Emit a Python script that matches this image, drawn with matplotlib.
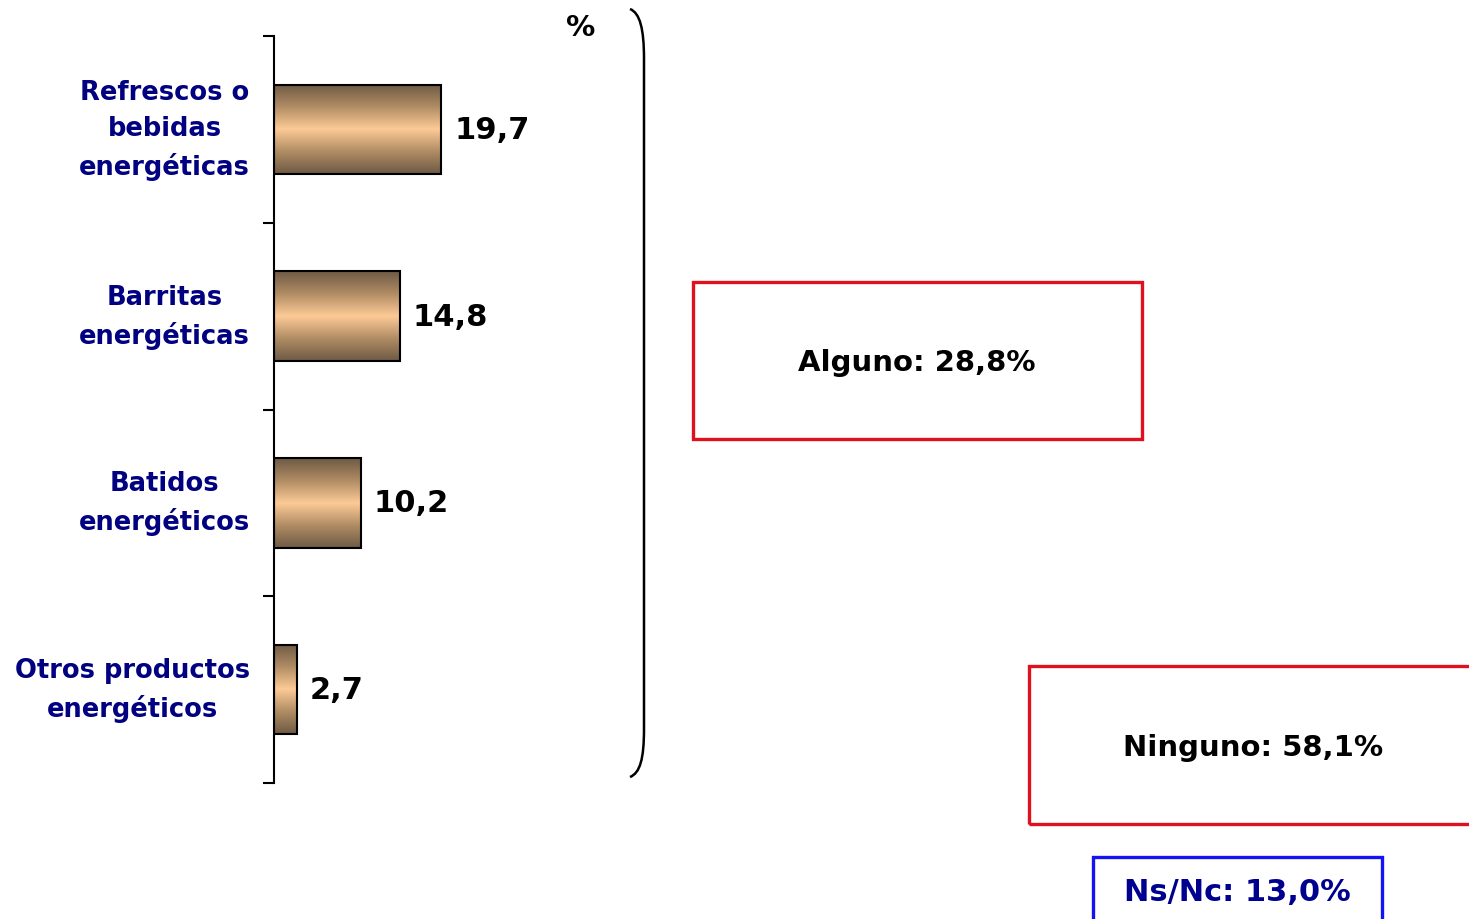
import numpy as np
import matplotlib
matplotlib.use("Agg")
import matplotlib.pyplot as plt
from matplotlib.patches import Rectangle, PathPatch
from matplotlib.path import Path
from matplotlib.colors import LinearSegmentedColormap

# Data
categories = ["Refrescos o\nbebidas\nenergéticas",
              "Barritas\nenergéticas",
              "Batidos\nenergéticos",
              "Otros productos\nenergéticos"]
values = [19.7, 14.8, 10.2, 2.7]
value_labels = ["19,7", "14,8", "10,2", "2,7"]
summary_alguno = "Alguno: 28,8%"
summary_ninguno = "Ninguno: 58,1%"
summary_nsnc = "Ns/Nc: 13,0%"

W, H = 1469, 920
fig = plt.figure(figsize=(W / 100, H / 100), dpi=100)
fig.patch.set_facecolor("white")


def fx(x):
    return x / W


def fy(y):
    return 1 - y / H


NAVY = "#000080"

# Bar axes
ax_left, ax_right, ax_top, ax_bottom = 274, 614, 37, 784
ax = fig.add_axes([fx(ax_left), fy(ax_bottom), fx(ax_right - ax_left), (ax_bottom - ax_top) / H])
ax.patch.set_alpha(0)
for s in ["top", "right", "bottom"]:
    ax.spines[s].set_visible(False)
ax.spines["left"].set_linewidth(1.5)
ax.xaxis.set_visible(False)
ax.set_yticks(np.arange(len(values) + 1) - 0.5)
ax.set_yticklabels([])
ax.tick_params(axis="y", length=8, width=1.5, direction="out")

# Cylinder-like shading for the bars
shade = LinearSegmentedColormap.from_list(
    "shade", [(0.0, "#6e5a45"), (0.25, "#b08c64"), (0.5, "#fdca96"),
              (0.75, "#b08c64"), (1.0, "#6e5a45")])
grad = np.linspace(0, 1, 256).reshape(-1, 1)
bar_h = 0.48
for i, v in enumerate(values):
    ax.imshow(grad, cmap=shade, aspect="auto", interpolation="bicubic",
              extent=[0, v, i + bar_h / 2, i - bar_h / 2], zorder=2)
    ax.barh(i, v, height=bar_h, facecolor="none", edgecolor="black",
            linewidth=1.5, zorder=3)
    ax.text(v + 1.5, i, value_labels[i], ha="left", va="center",
            fontsize=22, fontweight="bold", color="black")
ax.set_xlim(0, 40)
ax.set_ylim(len(values) - 0.5, -0.5)

# Category labels
for i, c in enumerate(categories):
    ax.text(-2.8, i, c, ha="right", va="center", multialignment="center",
            fontsize=18.5, fontweight="bold", color=NAVY, linespacing=1.5)

# Percent sign
fig.text(fx(581), fy(28), "%", ha="center", va="center", fontsize=21,
         fontweight="bold", color="black")

# Bracket grouping the bars
verts = [(630, 10), (640, 14), (644, 30), (644, 60),
         (644, 730), (644, 760), (640, 774), (630, 778)]
codes = [Path.MOVETO, Path.CURVE4, Path.CURVE4, Path.CURVE4,
         Path.LINETO, Path.CURVE4, Path.CURVE4, Path.CURVE4]
bracket = Path([(fx(x), fy(y)) for x, y in verts], codes)
fig.patches.append(PathPatch(bracket, transform=fig.transFigure, fill=False,
                             edgecolor="black", linewidth=1.8))

# Summary boxes
RED = "#e0101e"


def box(x0, y0, x1, y1, color):
    fig.patches.append(Rectangle((fx(x0), fy(y1)), fx(x1 - x0), (y1 - y0) / H,
                                 transform=fig.transFigure, fill=False,
                                 edgecolor=color, linewidth=2.4))


box(693, 283, 1142, 440, RED)
fig.text(fx(917), fy(363), summary_alguno, ha="center", va="center",
         fontsize=21, fontweight="bold", color="black")

box(1029, 667, 1485, 825, RED)
fig.text(fx(1253), fy(748), summary_ninguno, ha="center", va="center",
         fontsize=21, fontweight="bold", color="black")

box(1093, 858, 1382, 935, "#1414f0")
fig.text(fx(1237), fy(893), summary_nsnc, ha="center", va="center",
         fontsize=22, fontweight="bold", color="#000090")

fig.savefig("out.png", dpi=100, facecolor="white")
